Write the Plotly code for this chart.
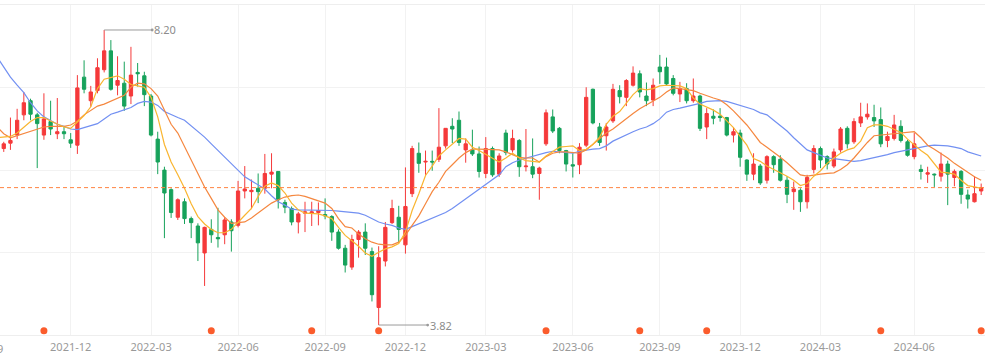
import pandas as pd
import plotly.graph_objects as go

# ---- weekly categories (A-share weeks; fully closed holiday weeks removed) ----
weeks = pd.date_range("2021-09-24", "2024-08-16", freq="W-FRI")
closed_weeks = pd.to_datetime(["2022-02-04", "2022-10-07", "2023-01-27", "2023-10-06", "2024-02-16"])
weeks = weeks[~weeks.isin(closed_weeks)]

tick_labels = ["2021-12", "2022-03", "2022-06", "2022-09", "2022-12", "2023-03",
               "2023-06", "2023-09", "2023-12", "2024-03", "2024-06"]
cut_label = "2021-09"

opens = [6.44, 6.52, 6.64, 6.94, 7.15, 6.94, 6.64, 6.84, 6.66, 6.69, 6.57, 6.49, 7.50, 7.15, 7.30, 7.61, 7.89, 7.38, 7.41, 7.22,
         7.57, 7.52, 7.22, 6.58, 6.12, 5.83, 5.42, 5.65, 5.40, 5.29, 4.89, 5.24, 5.12, 5.16, 5.35, 5.30, 5.81, 5.80, 5.85, 5.85,
         6.06, 6.10, 5.64, 5.55, 5.35, 5.48, 5.48, 5.49, 5.46, 5.43, 5.20, 4.96, 4.68, 5.09, 5.20, 4.91, 4.08, 4.77, 5.34, 5.42,
         5.01, 5.77, 6.37, 6.24, 6.25, 6.28, 6.48, 6.77, 6.86, 6.42, 6.42, 6.36, 6.07, 6.44, 6.06, 6.67, 6.42, 6.56, 6.17, 6.17,
         6.07, 6.51, 6.91, 6.74, 6.41, 6.20, 6.20, 6.49, 7.32, 6.76, 6.63, 6.85, 7.30, 7.20, 7.38, 7.55, 7.22, 7.16, 7.65, 7.65,
         7.48, 7.25, 7.33, 7.15, 7.22, 6.76, 6.92, 6.92, 6.90, 6.64, 6.67, 6.27, 6.06, 6.18, 5.97, 6.32, 6.28, 5.97, 5.80, 5.82,
         5.65, 6.13, 6.44, 6.32, 6.18, 6.42, 6.74, 6.54, 6.82, 6.91, 6.90, 6.87, 6.56, 6.59, 6.77, 6.54, 6.32, 6.13, 6.06, 6.06,
         6.03, 6.21, 6.01, 6.10, 5.75, 5.65, 5.81]
highs = [6.54, 6.90, 7.03, 7.28, 7.18, 6.97, 7.26, 7.15, 7.19, 6.77, 6.67, 7.53, 7.75, 7.37, 7.78, 8.20, 8.05, 7.81, 7.73, 7.95,
         7.71, 7.58, 7.25, 6.69, 6.17, 5.85, 5.70, 5.70, 5.43, 5.33, 5.28, 5.39, 5.56, 5.42, 5.39, 5.96, 6.18, 5.98, 6.07, 6.36,
         6.37, 6.10, 5.68, 5.58, 5.50, 5.65, 5.65, 5.64, 5.70, 5.45, 5.24, 5.01, 5.16, 5.23, 5.33, 4.97, 4.99, 5.35, 5.68, 5.59,
         6.16, 6.48, 6.53, 6.41, 6.41, 7.04, 6.74, 6.89, 6.99, 6.59, 6.72, 6.47, 6.61, 6.47, 6.37, 6.72, 6.72, 6.58, 6.73, 6.59,
         6.17, 7.02, 7.02, 6.76, 6.42, 6.37, 6.52, 7.35, 7.33, 6.82, 6.82, 7.40, 7.38, 7.47, 7.66, 7.60, 7.42, 7.48, 7.83, 7.79,
         7.53, 7.43, 7.41, 7.48, 7.24, 7.04, 7.02, 7.04, 6.91, 6.76, 6.72, 6.28, 6.37, 6.21, 6.34, 6.34, 6.34, 6.03, 5.95, 5.85,
         6.05, 6.49, 6.47, 6.34, 6.44, 6.76, 6.77, 6.89, 7.12, 7.11, 7.09, 7.05, 6.69, 6.94, 6.86, 6.57, 6.67, 6.20, 6.17, 6.07,
         6.38, 6.26, 6.13, 6.12, 5.83, 6.03, 5.92]
lows = [6.39, 6.42, 6.58, 6.86, 6.86, 6.15, 6.57, 6.64, 6.58, 6.58, 6.45, 6.36, 7.26, 7.06, 7.26, 7.57, 7.30, 7.23, 7.00, 7.10,
        7.36, 7.07, 6.62, 6.06, 5.11, 5.41, 5.38, 5.32, 5.11, 4.77, 4.40, 5.04, 4.97, 5.02, 4.91, 5.27, 5.70, 5.54, 5.63, 5.77,
        5.85, 5.55, 5.48, 5.30, 5.18, 5.20, 5.29, 5.30, 5.39, 5.07, 4.94, 4.60, 4.64, 4.82, 4.86, 4.17, 3.82, 4.69, 5.32, 5.04,
        4.88, 5.72, 6.08, 6.05, 6.11, 6.24, 6.44, 6.52, 6.48, 6.23, 6.33, 6.01, 6.00, 6.02, 6.02, 6.34, 6.38, 6.02, 6.10, 6.00,
        5.68, 6.48, 6.67, 6.37, 6.10, 6.01, 6.06, 6.46, 6.80, 6.48, 6.41, 6.82, 7.11, 7.07, 7.36, 7.20, 7.07, 7.07, 7.40, 7.38,
        7.23, 7.13, 7.11, 7.12, 6.70, 6.58, 6.80, 6.84, 6.62, 6.53, 6.17, 5.96, 5.97, 5.90, 5.92, 6.08, 5.95, 5.63, 5.53, 5.50,
        5.55, 6.07, 6.15, 6.13, 6.15, 6.38, 6.44, 6.51, 6.76, 6.87, 6.76, 6.46, 6.46, 6.56, 6.53, 6.32, 6.28, 5.98, 5.93, 5.87,
        5.95, 5.60, 5.88, 5.62, 5.55, 5.64, 5.75]
closes = [6.51, 6.56, 6.86, 7.12, 6.95, 6.81, 6.88, 6.73, 6.69, 6.66, 6.52, 7.34, 7.32, 7.28, 7.64, 7.89, 7.32, 7.45, 7.07, 7.53,
          7.55, 7.24, 6.64, 6.24, 5.78, 5.49, 5.68, 5.40, 5.34, 5.04, 5.27, 5.16, 5.10, 5.38, 5.22, 5.81, 5.84, 5.82, 5.80, 6.07,
          6.09, 5.68, 5.57, 5.35, 5.47, 5.50, 5.50, 5.52, 5.44, 5.20, 4.96, 4.71, 5.09, 5.20, 4.96, 4.27, 4.82, 5.27, 5.55, 5.24,
          5.58, 6.44, 6.22, 6.25, 6.24, 6.46, 6.74, 6.73, 6.53, 6.51, 6.36, 6.10, 6.44, 6.05, 6.33, 6.38, 6.59, 6.17, 6.18, 6.06,
          6.15, 6.97, 6.70, 6.41, 6.21, 6.18, 6.46, 7.20, 6.82, 6.53, 6.76, 7.32, 7.21, 7.45, 7.56, 7.28, 7.15, 7.38, 7.58, 7.40,
          7.26, 7.33, 7.15, 7.22, 6.74, 6.96, 6.89, 6.90, 6.64, 6.69, 6.31, 6.06, 6.21, 5.93, 6.32, 6.20, 5.97, 5.76, 5.84, 5.65,
          6.01, 6.44, 6.27, 6.21, 6.39, 6.73, 6.51, 6.84, 6.91, 6.95, 6.85, 6.51, 6.62, 6.79, 6.56, 6.34, 6.51, 6.10, 6.08, 6.05,
          6.21, 6.06, 6.10, 5.76, 5.69, 5.77, 5.86]

# moving averages, starting one week before the first visible candle
ma5 = [6.60, 6.61, 6.62, 6.67, 6.76, 6.84, 6.90, 6.90, 6.85, 6.80, 6.76, 6.74, 6.83, 6.93, 7.06, 7.33, 7.47, 7.50, 7.52, 7.47,
       7.39, 7.37, 7.35, 7.20, 6.91, 6.50, 6.24, 6.05, 5.85, 5.62, 5.43, 5.32, 5.24, 5.19, 5.19, 5.24, 5.35, 5.45, 5.55, 5.73,
       5.88, 5.93, 5.89, 5.78, 5.63, 5.53, 5.48, 5.47, 5.47, 5.44, 5.40, 5.27, 5.15, 5.07, 4.99, 4.89, 4.84, 4.90, 4.95, 4.98,
       5.03, 5.20, 5.52, 5.77, 6.04, 6.18, 6.33, 6.42, 6.51, 6.59, 6.58, 6.46, 6.41, 6.35, 6.30, 6.24, 6.30, 6.37, 6.30, 6.26,
       6.25, 6.24, 6.33, 6.40, 6.46, 6.47, 6.48, 6.41, 6.43, 6.50, 6.61, 6.80, 6.92, 6.99, 7.12, 7.24, 7.33, 7.31, 7.33, 7.37,
       7.38, 7.38, 7.37, 7.33, 7.19, 7.10, 7.06, 7.01, 6.95, 6.85, 6.75, 6.62, 6.49, 6.29, 6.25, 6.18, 6.13, 6.09, 6.03, 5.97,
       5.89, 5.92, 6.03, 6.11, 6.22, 6.30, 6.37, 6.42, 6.45, 6.55, 6.75, 6.79, 6.79, 6.77, 6.73, 6.68, 6.58, 6.49, 6.41, 6.34,
       6.21, 6.09, 6.08, 6.06, 5.97, 5.89, 5.87, 5.85]
ma10 = [6.76, 6.66, 6.60, 6.63, 6.66, 6.70, 6.73, 6.76, 6.77, 6.77, 6.77, 6.79, 6.85, 6.94, 7.00, 7.07, 7.10, 7.14, 7.18, 7.23,
        7.35, 7.41, 7.40, 7.33, 7.22, 7.00, 6.80, 6.67, 6.47, 6.26, 6.07, 5.87, 5.70, 5.53, 5.42, 5.33, 5.34, 5.35, 5.41, 5.48,
        5.56, 5.63, 5.68, 5.72, 5.74, 5.75, 5.73, 5.70, 5.67, 5.63, 5.55, 5.40, 5.28, 5.26, 5.17, 5.10, 5.05, 5.02, 5.01, 5.01,
        5.05, 5.15, 5.30, 5.44, 5.62, 5.80, 5.94, 6.10, 6.20, 6.30, 6.38, 6.43, 6.43, 6.43, 6.43, 6.42, 6.39, 6.35, 6.31, 6.30,
        6.30, 6.24, 6.32, 6.37, 6.39, 6.39, 6.38, 6.37, 6.42, 6.50, 6.58, 6.67, 6.73, 6.81, 6.88, 6.96, 7.03, 7.09, 7.14, 7.20,
        7.28, 7.34, 7.33, 7.32, 7.30, 7.26, 7.22, 7.19, 7.16, 7.09, 7.00, 6.89, 6.79, 6.66, 6.53, 6.46, 6.39, 6.31, 6.23, 6.14,
        6.05, 6.03, 6.05, 6.06, 6.07, 6.08, 6.13, 6.20, 6.30, 6.42, 6.53, 6.63, 6.64, 6.65, 6.67, 6.68, 6.69, 6.69, 6.60, 6.49,
        6.43, 6.37, 6.30, 6.22, 6.15, 6.09, 6.02, 5.97]
ma30 = [7.80, 7.65, 7.50, 7.38, 7.27, 7.12, 7.00, 6.91, 6.85, 6.80, 6.77, 6.73, 6.72, 6.75, 6.78, 6.81, 6.88, 6.95, 6.98, 7.01,
        7.05, 7.11, 7.14, 7.13, 7.08, 6.99, 6.94, 6.90, 6.86, 6.78, 6.69, 6.61, 6.51, 6.41, 6.31, 6.21, 6.12, 6.02, 5.96, 5.90,
        5.84, 5.74, 5.65, 5.60, 5.54, 5.53, 5.53, 5.53, 5.53, 5.53, 5.52, 5.51, 5.50, 5.49, 5.48, 5.45, 5.40, 5.35, 5.32, 5.30,
        5.26, 5.24, 5.28, 5.32, 5.36, 5.40, 5.44, 5.49, 5.55, 5.62, 5.69, 5.76, 5.83, 5.90, 5.97, 6.05, 6.17, 6.23, 6.27, 6.30,
        6.33, 6.35, 6.38, 6.40, 6.39, 6.38, 6.37, 6.40, 6.42, 6.43, 6.44, 6.48, 6.55, 6.60, 6.64, 6.69, 6.73, 6.76, 6.81, 6.88,
        6.98, 7.02, 7.04, 7.06, 7.08, 7.11, 7.14, 7.15, 7.15, 7.14, 7.11, 7.08, 7.06, 7.02, 6.97, 6.94, 6.86, 6.78, 6.70, 6.60,
        6.51, 6.42, 6.38, 6.34, 6.30, 6.29, 6.28, 6.27, 6.25, 6.26, 6.28, 6.30, 6.33, 6.35, 6.38, 6.40, 6.43, 6.45, 6.46, 6.48,
        6.49, 6.49, 6.48, 6.46, 6.44, 6.39, 6.36, 6.33]

event_weeks = [6, 31, 46, 56, 81, 95, 105, 131, 146]   # weeks with an event dot

RED = "#f5393a"
GREEN = "#17a25b"

n = min(len(weeks), len(opens))
xs = list(range(n))
ma_x = list(range(-1, n))

# tick positions = first week falling in each labelled month
wk_month = [d.strftime("%Y-%m") for d in weeks]
tick_pos = [wk_month.index(lbl) for lbl in tick_labels]

x_min, x_max = -0.56, n - 0.43
y_min, y_max = 3.672, 8.571

fig = go.Figure()
fig.add_trace(go.Candlestick(
    x=xs, open=opens[:n], high=highs[:n], low=lows[:n], close=closes[:n],
    increasing=dict(line=dict(color=RED, width=1), fillcolor=RED),
    decreasing=dict(line=dict(color=GREEN, width=1), fillcolor=GREEN),
    whiskerwidth=0, showlegend=False, hoverinfo="skip"))
for vals, col in [(ma30, "#7290f2"), (ma10, "#f5873f"), (ma5, "#f9b530")]:
    fig.add_trace(go.Scatter(x=ma_x, y=vals, mode="lines", line=dict(color=col, width=1.2),
                             showlegend=False, hoverinfo="skip"))
fig.add_trace(go.Scatter(x=event_weeks, y=[0.013] * len(event_weeks), yaxis="y2", mode="markers",
                         marker=dict(color="#fb5c2c", size=7), showlegend=False, hoverinfo="skip"))

# last close dashed line
fig.add_shape(type="line", xref="paper", x0=0, x1=1, y0=closes[n - 1], y1=closes[n - 1],
              line=dict(color="#ff8442", width=1, dash="4px,3px"))

# high / low labels
i_hi = max(range(n), key=lambda k: highs[k])
i_lo = min(range(n), key=lambda k: lows[k])
for idx, val, off in [(i_hi, highs[i_hi], 48), (i_lo, lows[i_lo], 49)]:
    fig.add_annotation(x=idx, y=val, text=f"{val:.2f}", showarrow=True, ax=off, ay=0,
                       xanchor="left", arrowside="start", startarrowhead=6, startarrowsize=0.7,
                       arrowcolor="#9a9a9a", arrowwidth=1,
                       font=dict(family="Noto Sans", size=11, color="#8c8c8c"))

# partially visible first axis label (cut by the left edge, as in the original view)
fig.add_annotation(xref="paper", yref="paper", x=0.005, y=0, xanchor="right",
                   yanchor="top", yshift=-4, text=cut_label, showarrow=False,
                   font=dict(family="Noto Sans", size=11, color="#999999"))

fig.update_layout(
    width=1000, height=364, margin=dict(l=0, r=15, t=5, b=29),
    paper_bgcolor="white", plot_bgcolor="white",
    xaxis=dict(range=[x_min, x_max], tickmode="array", tickvals=tick_pos, ticktext=tick_labels,
               showgrid=True, gridcolor="#f2f2f2", gridwidth=1, zeroline=False,
               showline=True, mirror=True, linecolor="#eeeeee", linewidth=1,
               ticks="", ticklabelstandoff=2,
               tickfont=dict(family="Noto Sans", size=11, color="#999999"),
               rangeslider=dict(visible=False), fixedrange=True),
    yaxis=dict(range=[y_min, y_max], tick0=y_min, dtick=(y_max - y_min) / 4,
               showgrid=True, gridcolor="#f2f2f2", zeroline=False, showticklabels=False,
               ticks="", fixedrange=True),
    yaxis2=dict(range=[0, 1], overlaying="y", visible=False, fixedrange=True),
)

fig.write_html("out.html", config={"displayModeBar": False},
               post_script="document.body.style.margin='0';document.body.style.overflow='hidden';")
